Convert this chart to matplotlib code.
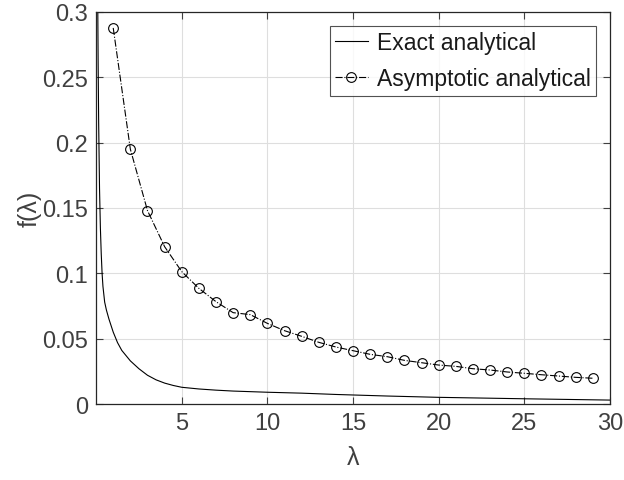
import matplotlib
matplotlib.use("Agg")
import matplotlib.pyplot as plt

plt.rcParams['font.family'] = ['Liberation Sans', 'DejaVu Sans']

# Exact analytical curve
lam_exact = [0.08, 0.1, 0.12, 0.15, 0.2, 0.25, 0.3, 0.35, 0.4, 0.5, 0.6, 0.75, 1.0, 1.25,
             1.5, 2.0, 2.5, 3.0, 3.5, 4.0, 4.5, 5.0, 6.0, 7.0, 8.0, 10.0, 12.0, 14.0,
             17.0, 20.0, 25.0, 30.0]
f_exact = [0.34, 0.30, 0.26, 0.215, 0.165, 0.135, 0.115, 0.100, 0.090, 0.078, 0.072, 0.065,
           0.055, 0.047, 0.041, 0.033, 0.027, 0.022, 0.0185, 0.016, 0.0142, 0.0128, 0.0115,
           0.0106, 0.0099, 0.0090, 0.0083, 0.0073, 0.0061, 0.0051, 0.0040, 0.0030]

# Asymptotic analytical points
lam_asym = list(range(1, 30))
f_asym = [0.2878, 0.195, 0.148, 0.1204, 0.1013, 0.0885, 0.0783, 0.0699, 0.0684, 0.0617,
          0.0561, 0.0518, 0.0472, 0.0436, 0.0408, 0.0380, 0.0362, 0.0334, 0.0316, 0.0298,
          0.0288, 0.0270, 0.0260, 0.0245, 0.0235, 0.0224, 0.0214, 0.0204, 0.0197]

xticks = [5, 10, 15, 20, 25, 30]
yticks = [0, 0.05, 0.1, 0.15, 0.2, 0.25, 0.3]
yticklabels = ['0', '0.05', '0.1', '0.15', '0.2', '0.25', '0.3']

fig = plt.figure(figsize=(6.24, 4.81), dpi=100)
ax = fig.add_axes([0.154, 0.158, 0.8236, 0.815])

txt = '#404040'
ax.plot(lam_exact, f_exact, '-', color='black', lw=0.8, label='Exact analytical')
ax.plot(lam_asym, f_asym, '-.', color='black', lw=0.8, marker='o', markersize=7,
        markerfacecolor='none', markeredgecolor='black', markeredgewidth=0.8,
        label='Asymptotic analytical')

ax.set_xlim(0, 30)
ax.set_ylim(0, 0.3)
ax.set_xticks(xticks)
ax.set_yticks(yticks)
ax.set_yticklabels(yticklabels)
ax.grid(True, color='#dedede', lw=0.8)
ax.set_axisbelow(True)
ax.tick_params(direction='in', top=True, right=True, labelsize=17, colors=txt,
               length=5, width=0.8, pad=6)
for s in ax.spines.values():
    s.set_color('#262626')
    s.set_linewidth(0.9)

ax.set_xlabel('λ', fontsize=18, color=txt, labelpad=8)
ax.set_ylabel('f(λ)', fontsize=18, color=txt, labelpad=0)

leg = ax.legend(loc='upper right', fontsize=16.5, frameon=True, fancybox=False,
                edgecolor='#262626', handlelength=1.4, handletextpad=0.4,
                borderpad=0.25, labelspacing=0.55, borderaxespad=0.6)
leg.get_frame().set_linewidth(0.8)
for t in leg.get_texts():
    t.set_color('#1a1a1a')

fig.savefig('out.png', dpi=100)
